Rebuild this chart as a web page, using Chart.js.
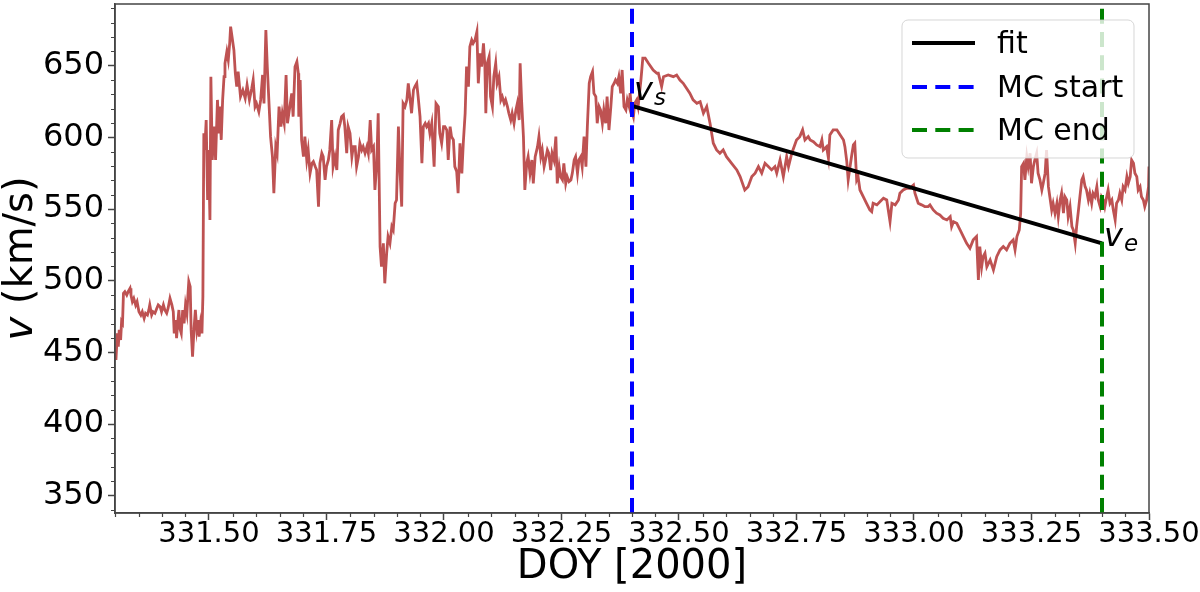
<!DOCTYPE html>
<html>
<head>
<meta charset="utf-8">
<title>Solar wind speed, DOY 331-333</title>
<script src="https://cdn.jsdelivr.net/npm/chart.js@4.4.0/dist/chart.umd.min.js"></script>
<style>
  html, body { margin: 0; padding: 0; background: #fff; }
  #wrap { width: 1200px; height: 592px; }
</style>
</head>
<body>
<div id="wrap"><canvas id="chart" width="1200" height="592"></canvas></div>
<script>
// speed trace (DOY 2000, km/s)
var doy = [
  331.302, 331.305, 331.307, 331.309, 331.312, 331.314, 331.316, 331.318, 331.321, 331.325,
  331.328, 331.332, 331.334, 331.337, 331.340, 331.344, 331.347, 331.351, 331.355, 331.358,
  331.362, 331.365, 331.369, 331.372, 331.374, 331.378, 331.381, 331.385, 331.389, 331.392,
  331.396, 331.399, 331.403, 331.406, 331.410, 331.413, 331.417, 331.421, 331.424, 331.426,
  331.429, 331.431, 331.434, 331.436, 331.438, 331.441, 331.444, 331.447, 331.450, 331.453,
  331.455, 331.457, 331.460, 331.462, 331.465, 331.468, 331.471, 331.474, 331.477, 331.479,
  331.482, 331.485, 331.487, 331.489, 331.491, 331.494, 331.497, 331.499, 331.502, 331.504,
  331.507, 331.511, 331.514, 331.518, 331.521, 331.523, 331.526, 331.529, 331.532, 331.534,
  331.538, 331.541, 331.544, 331.546, 331.549, 331.553, 331.556, 331.559, 331.562, 331.567,
  331.572, 331.577, 331.581, 331.586, 331.591, 331.594, 331.598, 331.601, 331.606, 331.610,
  331.614, 331.617, 331.621, 331.624, 331.628, 331.631, 331.635, 331.638, 331.642, 331.645,
  331.649, 331.653, 331.656, 331.660, 331.664, 331.667,
  331.672, 331.676, 331.679, 331.683, 331.687, 331.690, 331.691, 331.694, 331.697, 331.701,
  331.704, 331.708, 331.711, 331.715, 331.719, 331.722, 331.726, 331.729, 331.733, 331.736,
  331.740, 331.743, 331.747, 331.750, 331.754, 331.757, 331.761, 331.764, 331.768, 331.772,
  331.775, 331.779, 331.782, 331.786, 331.789, 331.793, 331.796, 331.800, 331.804, 331.807,
  331.811, 331.814, 331.818, 331.821, 331.825, 331.828, 331.832, 331.836, 331.839, 331.843,
  331.846, 331.850, 331.853, 331.857, 331.860, 331.864, 331.867, 331.871, 331.874, 331.878,
  331.881, 331.885, 331.889, 331.892, 331.896, 331.899, 331.903, 331.906, 331.910, 331.913,
  331.917, 331.921, 331.924, 331.928, 331.931, 331.935, 331.938, 331.942, 331.945, 331.949,
  331.953, 331.956, 331.960, 331.963, 331.967, 331.970, 331.974, 331.979, 331.983, 331.988,
  331.991, 331.995, 331.999, 332.002, 332.006, 332.009, 332.013, 332.016, 332.020, 332.023,
  332.027, 332.030,
  332.034, 332.038, 332.041, 332.045, 332.048, 332.052, 332.055, 332.059, 332.062, 332.066,
  332.070, 332.073, 332.077, 332.080, 332.084, 332.087, 332.089, 332.092, 332.096, 332.099,
  332.103, 332.106, 332.110, 332.113, 332.117, 332.121, 332.124, 332.128, 332.131, 332.135,
  332.138, 332.142, 332.145, 332.149, 332.153, 332.156, 332.160, 332.162, 332.165, 332.169,
  332.172, 332.176, 332.179, 332.183, 332.187, 332.190, 332.194, 332.199, 332.202, 332.206,
  332.209, 332.213, 332.216, 332.220, 332.223, 332.227, 332.230, 332.234, 332.238, 332.241,
  332.245, 332.248, 332.252, 332.255, 332.259, 332.262, 332.266, 332.270, 332.273, 332.277,
  332.280, 332.284, 332.287, 332.291, 332.294, 332.298, 332.302, 332.305, 332.309, 332.312,
  332.316, 332.319, 332.323, 332.326, 332.330, 332.333, 332.337, 332.340, 332.344, 332.347,
  332.351, 332.355, 332.358, 332.362, 332.365, 332.369, 332.372, 332.376, 332.379, 332.383,
  332.387, 332.390, 332.394,
  332.396, 332.399, 332.403, 332.406, 332.410, 332.413, 332.419, 332.423, 332.428, 332.435,
  332.445, 332.453, 332.456, 332.463, 332.467, 332.477, 332.488, 332.495, 332.502, 332.509,
  332.516, 332.523, 332.530, 332.538, 332.545, 332.552, 332.559, 332.566, 332.573, 332.580,
  332.587, 332.594, 332.601, 332.612, 332.623, 332.630, 332.640, 332.647, 332.655, 332.662,
  332.669, 332.676, 332.683, 332.690, 332.697, 332.704, 332.708, 332.715, 332.722, 332.729,
  332.733, 332.740, 332.750, 332.757, 332.763, 332.768, 332.775,
  332.779, 332.786, 332.793, 332.800, 332.804, 332.807, 332.814, 332.818, 332.821, 332.828,
  332.836, 332.843, 332.850, 332.853, 332.857, 332.860, 332.864, 332.867, 332.871, 332.874,
  332.878, 332.881, 332.885, 332.892, 332.899, 332.906, 332.910, 332.913, 332.921, 332.928,
  332.935, 332.942, 332.949, 332.953, 332.960, 332.967, 332.970, 332.977, 332.985, 332.991,
  332.999, 333.002, 333.009, 333.016, 333.023, 333.030, 333.034, 333.041, 333.048, 333.055,
  333.062, 333.070, 333.077, 333.080, 333.084, 333.091, 333.098, 333.105, 333.112, 333.119,
  333.126, 333.133, 333.137,
  333.140, 333.144, 333.147, 333.151, 333.155, 333.162, 333.169, 333.176, 333.183, 333.190,
  333.197, 333.204, 333.211, 333.215, 333.219, 333.224, 333.227, 333.229, 333.233, 333.236,
  333.240, 333.243, 333.247, 333.250, 333.254, 333.257, 333.261, 333.264, 333.268, 333.272,
  333.275, 333.279, 333.282, 333.286, 333.289, 333.293, 333.296, 333.300, 333.304, 333.307,
  333.311, 333.314, 333.318, 333.321, 333.325, 333.328, 333.332, 333.336, 333.339, 333.343,
  333.346, 333.350, 333.353, 333.357, 333.360, 333.364, 333.367, 333.371, 333.374, 333.378,
  333.381, 333.385, 333.389, 333.392, 333.396, 333.399, 333.403, 333.406, 333.410, 333.413,
  333.417, 333.421, 333.424, 333.428, 333.431, 333.435, 333.438, 333.442, 333.445, 333.449,
  333.453, 333.456, 333.460, 333.463, 333.467, 333.470, 333.474, 333.477, 333.481, 333.484,
  333.488, 333.491, 333.495, 333.499, 333.500
];

var speed = [
  444.7, 463.3, 454.0, 465.7, 458.7, 471.5, 470.3, 491.2, 492.4, 490.0,
  492.4, 494.7, 490.0, 485.4, 487.7, 483.0, 485.4, 478.4, 476.1, 478.4,
  473.8, 477.3, 476.1, 479.6, 483.1, 476.1, 478.4, 477.3, 480.8, 483.1,
  481.9, 478.4, 483.1, 479.6, 477.3, 480.8, 487.7, 483.1, 478.4, 463.3,
  472.6, 459.9, 472.6, 479.6, 466.8, 463.3, 479.6, 470.3, 483.1, 477.3,
  488.9, 499.4, 495.9, 465.7, 447.1, 465.7, 479.6, 465.7, 472.6, 461.0,
  470.3, 463.3, 488.9, 602.8, 591.2, 612.1, 556.3, 591.2, 542.4, 642.3,
  584.2, 607.5, 584.2, 626.1, 602.8, 621.4, 598.2, 626.1, 642.3, 651.6,
  659.8, 654.0, 665.6, 677.2, 670.2, 660.9, 644.7, 635.4, 645.8, 628.4,
  633.0, 627.2, 636.5, 626.1, 634.2, 640.0, 621.4, 623.7, 617.9, 626.1,
  643.5, 623.7, 674.9, 649.3, 621.4, 600.5, 586.5, 561.0, 593.5, 588.9,
  621.4, 607.5, 616.8, 609.8, 643.5, 609.8,
  621.4, 630.7, 614.4, 649.3, 652.8, 644.7, 614.4, 640.0, 598.2, 586.5,
  600.5, 584.2, 591.2, 574.9, 581.9, 583.1, 579.6, 577.2, 551.7, 581.9,
  588.9, 586.5, 570.3, 579.6, 584.2, 591.2, 612.1, 579.6, 586.5, 577.2,
  605.1, 609.8, 614.4, 615.6, 607.5, 588.9, 607.5, 602.8, 586.5, 593.5,
  593.5, 579.6, 586.5, 595.8, 591.2, 593.5, 588.9, 593.5, 588.9, 612.1,
  591.2, 593.5, 563.3, 581.9, 616.8, 523.8, 509.8, 526.1, 498.2, 519.1,
  530.8, 526.1, 537.7, 535.4, 554.0, 556.3, 607.5, 579.6, 551.7, 623.7,
  621.4, 626.1, 637.7, 626.1, 616.8, 633.0, 635.4, 637.7, 628.4, 614.4,
  581.9, 607.5, 609.8, 607.5, 609.8, 602.8, 609.8, 579.6, 623.7, 621.4,
  602.8, 595.8, 607.5, 607.5, 605.1, 584.2, 607.5, 600.5, 598.2, 579.6,
  576.1, 561.0,
  595.8, 574.9, 595.8, 616.8, 649.3, 635.4, 663.2, 667.9, 665.6, 667.9,
  673.7, 637.7, 658.6, 649.3, 665.6, 649.3, 616.8, 651.6, 656.3, 628.4,
  621.4, 642.3, 651.6, 637.7, 642.3, 626.1, 628.4, 623.7, 626.1, 621.4,
  616.8, 612.1, 616.8, 609.8, 619.1, 623.7, 612.1, 651.6, 626.1, 600.5,
  563.3, 581.9, 586.5, 574.9, 584.2, 567.9, 586.5, 593.5, 600.5, 586.5,
  591.2, 579.6, 584.2, 591.2, 588.9, 577.2, 588.9, 584.2, 600.5, 567.9,
  579.6, 572.6, 570.3, 581.9, 567.9, 572.6, 569.1, 570.3, 574.9, 584.2,
  586.5, 574.9, 584.2, 586.5, 579.6, 600.5, 579.6, 607.5, 637.7, 642.3,
  645.8, 630.7, 628.4, 609.8, 621.4, 619.1, 609.8, 619.1, 609.8, 628.4,
  605.1, 621.4, 635.4, 637.7, 640.0, 637.7, 642.3, 630.7, 647.0, 621.4,
  619.1, 626.1, 621.4,
  630.8, 619.1, 614.4, 623.8, 626.1, 621.4, 640.0, 655.2, 655.2, 651.7,
  647.0, 644.7, 644.7, 635.4, 642.3, 643.5, 642.3, 643.5, 640.0, 637.7,
  634.2, 630.8, 626.1, 623.8, 624.9, 616.8, 621.4, 609.8, 595.9, 591.2,
  588.9, 591.2, 586.5, 581.9, 577.3, 572.6, 563.3, 565.6, 572.6, 575.0,
  579.6, 575.0, 581.9, 579.6, 577.3, 579.6, 575.0, 584.2, 572.6, 586.5,
  579.6, 588.9, 598.2, 600.5, 605.2, 598.2, 600.5,
  598.2, 597.0, 594.7, 593.5, 598.2, 591.2, 593.5, 585.4, 601.7, 605.2,
  605.2, 601.7, 598.2, 593.5, 583.1, 570.3, 579.6, 586.5, 594.7, 595.9,
  570.3, 572.6, 563.3, 558.6, 554.0, 549.4, 548.2, 554.0, 552.9, 555.2,
  557.5, 556.3, 541.2, 554.0, 552.9, 556.3, 561.0, 563.3, 564.5, 564.5,
  566.8, 561.0, 554.0, 552.9, 551.7, 551.7, 552.9, 549.4, 547.1, 545.9,
  543.6, 542.4, 544.7, 537.7, 541.2, 540.0, 535.4, 530.8, 526.1, 522.7,
  528.5, 530.8, 500.6,
  523.8, 509.8, 516.8, 519.2, 509.8, 514.5, 507.5, 516.8, 521.5, 523.8,
  521.5, 526.1, 528.5, 521.5, 530.8, 535.4, 547.1, 579.6, 581.9, 570.3,
  586.5, 579.6, 588.9, 568.0, 579.6, 584.2, 588.9, 575.0, 570.3, 563.3,
  568.0, 575.0, 591.2, 565.6, 558.6, 549.4, 554.0, 547.1, 554.0, 544.7,
  556.3, 561.0, 547.1, 558.6, 556.3, 544.7, 551.7, 537.7, 535.4, 526.1,
  537.7, 549.4, 558.6, 570.3, 572.6, 565.6, 563.3, 556.3, 561.0, 554.0,
  561.0, 558.6, 565.6, 556.3, 551.7, 558.6, 556.3, 551.7, 558.6, 563.3,
  554.0, 556.3, 549.4, 542.4, 554.0, 556.3, 561.0, 556.3, 565.6, 563.3,
  572.6, 568.0, 572.6, 584.2, 581.9, 575.0, 572.6, 563.3, 565.6, 558.6,
  556.3, 551.7, 556.3, 565.6, 579.6
];

// linear fit between the MC boundaries
var fitDoy = [332.40, 333.40];
var fitSpeed = [622, 526];

// magnetic cloud boundaries
var mcStart = 332.40;
var mcEnd = 333.40;

var xTicks = [331.50, 331.75, 332.00, 332.25, 332.50, 332.75, 333.00, 333.25, 333.50];
var yTicks = [350, 400, 450, 500, 550, 600, 650];

var xMin = 331.30, xMax = 333.50;
var yMin = 338, yMax = 693;

var FONT = '"DejaVu Sans", sans-serif';
var AXIS_COLOR = '#444';

function toPoints(xs, ys) {
  var pts = [];
  for (var i = 0; i < xs.length; i++) {
    pts.push({ x: xs[i], y: ys[i] });
  }
  return pts;
}

function drawSub(ctx, base, sub, x, y) {
  ctx.font = 'italic 32px ' + FONT;
  ctx.textAlign = 'left';
  ctx.textBaseline = 'alphabetic';
  ctx.fillText(base, x, y);
  var w = ctx.measureText(base).width;
  ctx.font = 'italic 23px ' + FONT;
  ctx.fillText(sub, x + w + 1, y + 5);
}

// spines, minor ticks, axis titles, v labels and the legend
var extras = {
  id: 'extras',
  afterDraw: function(chart) {
    var ctx = chart.ctx;
    var a = chart.chartArea;
    var sx = chart.scales.x, sy = chart.scales.y;
    var i, v, p;

    ctx.save();

    // minor ticks
    ctx.strokeStyle = AXIS_COLOR;
    ctx.lineWidth = 1.2;
    ctx.beginPath();
    for (i = 0; i <= 44; i++) {
      v = xMin + i * 0.05;
      if (Math.abs(v * 4 - Math.round(v * 4)) < 1e-6) continue;
      p = Math.round(sx.getPixelForValue(v)) + 0.5;
      ctx.moveTo(p, a.bottom);
      ctx.lineTo(p, a.bottom + 4);
    }
    for (v = 340; v <= 690; v += 10) {
      if (v % 50 === 0) continue;
      p = Math.round(sy.getPixelForValue(v)) + 0.5;
      ctx.moveTo(a.left, p);
      ctx.lineTo(a.left - 4, p);
    }
    ctx.stroke();

    // frame
    ctx.lineWidth = 1.5;
    ctx.strokeRect(a.left, a.top, a.right - a.left, a.bottom - a.top);

    ctx.fillStyle = '#000';

    // v_s and v_e
    drawSub(ctx, 'v', 's', sx.getPixelForValue(fitDoy[0]) + 2, sy.getPixelForValue(fitSpeed[0]) - 6);
    drawSub(ctx, 'v', 'e', sx.getPixelForValue(fitDoy[1]) + 2, sy.getPixelForValue(fitSpeed[1]) + 3);

    // x title
    ctx.font = '40px ' + FONT;
    ctx.textAlign = 'center';
    ctx.textBaseline = 'alphabetic';
    ctx.fillText('DOY [2000]', (a.left + a.right) / 2, 578);

    // y title, italic v
    ctx.save();
    ctx.translate(32, (a.top + a.bottom) / 2);
    ctx.rotate(-Math.PI / 2);
    ctx.font = 'italic 40px ' + FONT;
    var w1 = ctx.measureText('v').width;
    ctx.font = '40px ' + FONT;
    var w2 = ctx.measureText(' (km/s)').width;
    var x0 = -(w1 + w2) / 2;
    ctx.textAlign = 'left';
    ctx.font = 'italic 40px ' + FONT;
    ctx.fillText('v', x0, 0);
    ctx.font = '40px ' + FONT;
    ctx.fillText(' (km/s)', x0 + w1, 0);
    ctx.restore();

    // legend
    var lx = 902, ly = 20, lw = 232, lh = 138;
    ctx.beginPath();
    ctx.roundRect(lx, ly, lw, lh, 6);
    ctx.fillStyle = 'rgba(255,255,255,0.8)';
    ctx.fill();
    ctx.strokeStyle = 'rgba(204,204,204,0.8)';
    ctx.lineWidth = 1;
    ctx.stroke();

    var rows = [43, 87, 130];
    var sets = chart.data.datasets.slice(1);
    ctx.font = '30px ' + FONT;
    ctx.textBaseline = 'middle';
    ctx.textAlign = 'left';
    for (i = 0; i < sets.length; i++) {
      var ds = sets[i];
      ctx.beginPath();
      ctx.setLineDash(ds.borderDash || []);
      ctx.strokeStyle = ds.borderColor;
      ctx.lineWidth = ds.borderWidth;
      ctx.moveTo(912, rows[i]);
      ctx.lineTo(975, rows[i]);
      ctx.stroke();
      ctx.setLineDash([]);
      ctx.fillStyle = '#000';
      ctx.fillText(ds.label, 997, rows[i] + 2);
    }

    ctx.restore();
  }
};

var ctx = document.getElementById('chart').getContext('2d');

var chart = new Chart(ctx, {
  type: 'line',
  data: {
    datasets: [
      {
        label: 'speed',
        data: toPoints(doy, speed),
        borderColor: 'rgb(190, 82, 82)',
        borderWidth: 2.8,
        pointRadius: 0,
        tension: 0,
        order: 4
      },
      {
        label: 'fit',
        data: toPoints(fitDoy, fitSpeed),
        borderColor: '#000',
        borderWidth: 4,
        pointRadius: 0,
        order: 3
      },
      {
        label: 'MC start',
        data: toPoints([mcStart, mcStart], [yMin, yMax]),
        borderColor: '#0000ff',
        borderWidth: 4,
        borderDash: [15, 8.3],
        pointRadius: 0,
        order: 2
      },
      {
        label: 'MC end',
        data: toPoints([mcEnd, mcEnd], [yMin, yMax]),
        borderColor: '#008000',
        borderWidth: 4,
        borderDash: [15, 8.3],
        pointRadius: 0,
        order: 1
      }
    ]
  },
  options: {
    responsive: false,
    animation: false,
    devicePixelRatio: 1,
    layout: { padding: { left: 0, top: 4, right: 51, bottom: 0 } },
    plugins: {
      legend: { display: false },
      tooltip: { enabled: false }
    },
    scales: {
      x: {
        type: 'linear',
        min: xMin,
        max: xMax,
        afterBuildTicks: function(s) {
          s.ticks = xTicks.map(function(v) { return { value: v }; });
        },
        afterFit: function(s) {
          s.height = 79;
          s.paddingLeft = 0;
          s.paddingRight = 0;
        },
        ticks: {
          autoSkip: false,
          maxRotation: 0,
          padding: -3,
          color: '#000',
          font: { family: FONT, size: 29 },
          callback: function(v) { return v.toFixed(2); }
        },
        grid: { drawOnChartArea: false, tickLength: 7, tickWidth: 1.5, tickColor: AXIS_COLOR },
        border: { color: AXIS_COLOR, width: 1.5 }
      },
      y: {
        type: 'linear',
        min: yMin,
        max: yMax,
        afterBuildTicks: function(s) {
          s.ticks = yTicks.map(function(v) { return { value: v }; });
        },
        afterFit: function(s) {
          s.width = 115;
          s.paddingTop = 0;
          s.paddingBottom = 0;
        },
        ticks: {
          padding: 4,
          color: '#000',
          font: { family: FONT, size: 32 },
          callback: function(v) { return String(v); }
        },
        grid: { drawOnChartArea: false, tickLength: 7, tickWidth: 1.5, tickColor: AXIS_COLOR },
        border: { color: AXIS_COLOR, width: 1.5 }
      }
    }
  },
  plugins: [extras]
});
</script>
</body>
</html>
